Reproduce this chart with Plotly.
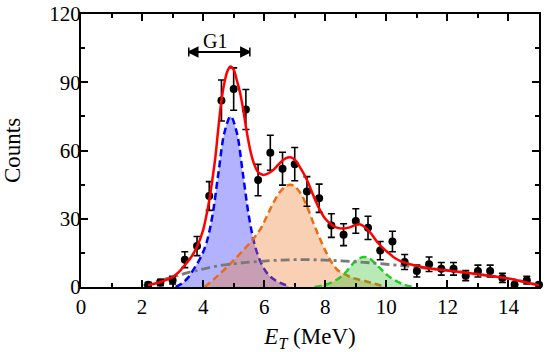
import plotly.graph_objects as go

data_x = [2.2, 2.6, 3.0, 3.4, 3.8, 4.2, 4.6, 5.0, 5.4, 5.8, 6.2, 6.6, 7.0, 7.4, 7.8,
          8.2, 8.6, 9.0, 9.4, 9.8, 10.2, 10.6, 11.0, 11.4, 11.8, 12.2, 12.6, 13.0,
          13.4, 13.8, 14.2, 14.6, 15.0]
data_y = [1, 2, 3, 12, 18, 40, 82, 87, 78, 47, 59, 52, 54, 42, 39,
          27, 23, 29, 26, 16, 20, 11, 7, 10, 8, 8, 5, 7,
          7, 4, 1, 3, 1]
data_err = [1.0, 1.4, 1.7, 3.5, 4.2, 6.3, 9.0, 9.3, 8.8, 6.9, 7.7, 7.2, 7.3, 6.5, 6.2,
            5.2, 4.8, 5.4, 5.1, 4.0, 4.5, 3.3, 2.6, 3.2, 2.8, 2.8, 2.2, 2.6,
            2.6, 2.0, 1.0, 1.7, 1.0]

# ---- fit components ----
blue_x = [3.1, 3.3, 3.5, 3.7, 3.9, 4.1, 4.3, 4.5, 4.7, 4.9, 5.1, 5.3, 5.5, 5.7, 5.9,
          6.1, 6.3, 6.5, 6.8]
blue_y = [0, 1.5, 4, 8, 12.5, 19, 31, 50, 68, 75, 68, 50, 31, 18, 10.5,
          6, 3.5, 2, 0.4]

orange_x = [4.05, 4.4, 4.8, 5.2, 5.6, 5.9, 6.1, 6.3, 6.5, 6.7, 6.85, 7.0, 7.2, 7.4,
            7.6, 7.8, 8.0, 8.2, 8.4, 8.6, 8.8, 9.0, 9.3, 9.6, 9.9]
orange_y = [0, 4, 9, 14.5, 20.5, 26, 31.5, 37, 41.5, 44.3, 45, 44.2, 41, 35.5,
            28.5, 22, 16, 11, 7.5, 6, 4.5, 3.6, 2.6, 1.5, 0.3]

green_x = [7.65, 8.0, 8.3, 8.6, 8.8, 9.0, 9.25, 9.45, 9.65, 9.85, 10.05, 10.3, 10.55, 10.85]
green_y = [0, 1, 2.6, 5.5, 8.5, 11.5, 13.2, 12.5, 10.2, 7.5, 5, 2.8, 1.2, 0]

gray_x = [2.05, 2.5, 3.0, 3.5, 4.0, 4.5, 5.0, 5.5, 6.0, 6.5, 7.0, 7.5, 8.0, 8.5, 9.0,
          9.5, 10.0, 10.5, 11.0, 11.5, 12.0, 12.5, 13.0, 13.5, 14.0, 14.5, 15.0]
gray_y = [0.5, 2.5, 4.4, 6.3, 7.9, 9.3, 10.2, 10.9, 11.4, 11.8, 12.0, 12.0, 11.8, 11.5, 11.1,
          10.6, 10.0, 9.4, 8.7, 8.0, 7.3, 6.5, 5.6, 4.7, 3.7, 2.4, 0.7]

red_x = [2.2, 2.6, 3.0, 3.2, 3.4, 3.6, 3.8, 4.0, 4.1, 4.2, 4.3, 4.4, 4.5, 4.6, 4.7,
         4.8, 4.9, 5.0, 5.1, 5.2, 5.3, 5.4, 5.5, 5.6, 5.7, 5.8, 5.95, 6.1, 6.3, 6.5,
         6.7, 6.85, 7.0, 7.2, 7.4, 7.6, 7.8, 8.0, 8.2, 8.4, 8.6, 8.8, 9.0, 9.15, 9.3,
         9.5, 9.7, 9.9, 10.1, 10.3, 10.6, 10.9, 11.2, 11.5, 12.0, 12.5, 13.0, 13.5,
         14.0, 14.5, 15.0]
red_y = [0.8, 2.2, 4.4, 6.5, 9.6, 13, 17.7, 25, 31, 38, 47, 57, 70, 82, 90,
         95, 96.9, 95.5, 91, 86, 79, 70.5, 63, 57, 53, 50.5, 49.3, 49.7, 51.5, 54.3,
         56.5, 57, 56, 52, 47, 40.5, 34.5, 30, 27.5, 26, 25.7, 26.2, 27.3, 27.5, 26.3,
         23.5, 19.8, 17, 14.7, 12.5, 10.7, 9.6, 8.7, 8.0, 7.3, 6.5, 5.6, 4.7,
         3.7, 2.3, 0.7]

x_ticks = [0, 2, 4, 6, 8, 10, 12, 14]
y_ticks = [0, 30, 60, 90, 120]
g1_range = [3.53, 5.53]
g1_y = 103.3
g1_label = "G1"
g1_label_pos = [4.38, 108.0]

FONT = "Liberation Serif"

fig = go.Figure()

fig.add_trace(go.Scatter(x=blue_x, y=blue_y, mode="lines", fill="tozeroy",
                         fillcolor="rgba(0,0,255,0.30)", line_shape="spline",
                         line=dict(color="#0000FF", width=2.5, dash="7px,4px")))
fig.add_trace(go.Scatter(x=orange_x, y=orange_y, mode="lines", fill="tozeroy",
                         fillcolor="rgba(240,120,40,0.35)", line_shape="spline",
                         line=dict(color="#F06A10", width=2.5, dash="7px,4px")))
fig.add_trace(go.Scatter(x=green_x, y=green_y, mode="lines", fill="tozeroy",
                         fillcolor="rgba(30,190,30,0.32)", line_shape="spline",
                         line=dict(color="#22CC22", width=2.5, dash="7px,4px")))
fig.add_trace(go.Scatter(x=gray_x, y=gray_y, mode="lines", line_shape="spline",
                         line=dict(color="#7A7A7A", width=2.8, dash="9px,4px,3px,4px")))
fig.add_trace(go.Scatter(x=data_x, y=data_y, mode="markers",
                         marker=dict(color="black", size=8, symbol="circle"),
                         error_y=dict(type="data", array=data_err, visible=True,
                                      color="black", thickness=1.6, width=3.5),
                         cliponaxis=False))
fig.add_trace(go.Scatter(x=red_x, y=red_y, mode="lines", line_shape="spline",
                         line=dict(color="#FF0000", width=2.5)))
fig.add_trace(go.Scatter(x=g1_range, y=[g1_y, g1_y], mode="lines+markers",
                         line=dict(color="black", width=2),
                         marker=dict(symbol=["arrow-bar-left", "arrow-bar-right"],
                                     size=9, color="black",
                                     line=dict(color="black", width=1.5))))

fig.add_annotation(x=g1_label_pos[0], y=g1_label_pos[1], text=g1_label,
                   showarrow=False, yanchor="middle", xanchor="center",
                   font=dict(family=FONT, size=20, color="black"))

axis_common = dict(showline=True, linewidth=2, linecolor="black", mirror="ticks",
                   ticks="inside", ticklen=7, tickwidth=2, tickcolor="black",
                   showgrid=False, zeroline=False, automargin=False,
                   ticklabeloverflow="allow",
                   tickfont=dict(family=FONT, size=21, color="black"))

fig.update_xaxes(range=[0, 15], tickvals=x_ticks,
                 minor=dict(dtick=1, ticks="inside", ticklen=4, tickwidth=2,
                            tickcolor="black"),
                 title=dict(text="<i>E</i><sub><i>T</i></sub> (MeV)",
                            font=dict(family=FONT, size=23, color="black"),
                            standoff=20),
                 **axis_common)
fig.update_yaxes(range=[0, 120], tickvals=y_ticks, ticklabelstandoff=-6,
                 minor=dict(dtick=15, ticks="inside", ticklen=4, tickwidth=2,
                            tickcolor="black"),
                 title=dict(text="Counts",
                            font=dict(family=FONT, size=23, color="black"),
                            standoff=27),
                 **axis_common)

fig.update_layout(width=550, height=352, showlegend=False,
                  margin=dict(l=81, r=11, t=14, b=65),
                  plot_bgcolor="white", paper_bgcolor="white")

# remove the browser's default 8px body margin so the figure fills the window
fig.write_html("out.html", config={"displayModeBar": False},
               post_script="document.body.style.margin='0';")
